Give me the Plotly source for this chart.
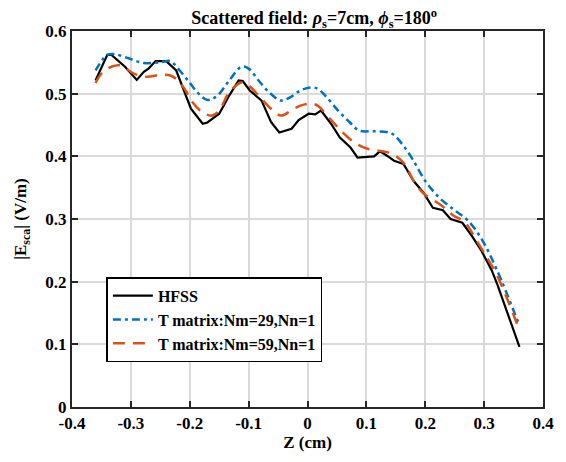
import plotly.graph_objects as go

z_hfss = [-0.36, -0.34, -0.333, -0.31, -0.29, -0.278, -0.27, -0.258, -0.24, -0.223, -0.198, -0.178, -0.17,
          -0.158, -0.15, -0.133, -0.117, -0.11, -0.098, -0.078, -0.062, -0.048, -0.027, -0.015, 0.002, 0.013,
          0.023, 0.04, 0.055, 0.073, 0.085, 0.113, 0.123, 0.135, 0.147, 0.163, 0.18, 0.197, 0.213, 0.23,
          0.243, 0.263, 0.28, 0.295, 0.313, 0.323, 0.36]
e_hfss = [0.521, 0.562, 0.562, 0.543, 0.522, 0.535, 0.54, 0.552, 0.552, 0.537, 0.476, 0.452, 0.454,
          0.463, 0.468, 0.497, 0.521, 0.52, 0.505, 0.489, 0.455, 0.438, 0.444, 0.458, 0.468, 0.467,
          0.473, 0.452, 0.43, 0.414, 0.398, 0.40, 0.408, 0.401, 0.393, 0.388, 0.361, 0.342, 0.318, 0.314,
          0.30, 0.294, 0.272, 0.25, 0.218, 0.194, 0.096]

z_t29 = [-0.36, -0.34, -0.327, -0.303, -0.278, -0.25, -0.233, -0.22, -0.203, -0.187, -0.17, -0.153, -0.133,
         -0.112, -0.1, -0.083, -0.065, -0.045, -0.028, -0.012, 0.005, 0.017, 0.03, 0.052, 0.072, 0.088,
         0.113, 0.138, 0.147, 0.172, 0.202, 0.225, 0.25, 0.272, 0.297, 0.322, 0.36]
e_t29 = [0.537, 0.562, 0.563, 0.556, 0.549, 0.55, 0.552, 0.54, 0.521, 0.502, 0.49, 0.497, 0.521,
         0.543, 0.54, 0.521, 0.502, 0.489, 0.495, 0.505, 0.51, 0.508, 0.497, 0.473, 0.454, 0.441,
         0.44, 0.438, 0.434, 0.405, 0.358, 0.333, 0.314, 0.298, 0.266, 0.218, 0.13]

z_t59 = [-0.36, -0.35, -0.333, -0.317, -0.295, -0.273, -0.25, -0.233, -0.22, -0.207, -0.195, -0.178, -0.162,
         -0.15, -0.133, -0.112, -0.1, -0.083, -0.062, -0.045, -0.028, -0.012, 0.005, 0.017, 0.038, 0.06,
         0.08, 0.102, 0.122, 0.138, 0.155, 0.167, 0.18, 0.197, 0.227, 0.247, 0.267, 0.287, 0.305, 0.322, 0.36]
e_t59 = [0.517, 0.532, 0.543, 0.545, 0.532, 0.527, 0.53, 0.529, 0.521, 0.505, 0.486, 0.47, 0.465,
         0.473, 0.502, 0.518, 0.513, 0.497, 0.476, 0.465, 0.473, 0.481, 0.484, 0.481, 0.46, 0.438,
         0.422, 0.412, 0.409, 0.406, 0.397, 0.385, 0.361, 0.341, 0.322, 0.306, 0.295, 0.266, 0.238, 0.21, 0.123]

x_ticks = [-0.4, -0.3, -0.2, -0.1, 0, 0.1, 0.2, 0.3, 0.4]
x_tick_labels = ["-0.4", "-0.3", "-0.2", "-0.1", "0", "0.1", "0.2", "0.3", "0.4"]
y_ticks = [0, 0.1, 0.2, 0.3, 0.4, 0.5, 0.6]
y_tick_labels = ["0", "0.1", "0.2", "0.3", "0.4", "0.5", "0.6"]

FONT = "Liberation Serif"

def f(size=17):
    return dict(family=FONT, size=size, color="black", weight="bold")

fig = go.Figure()
fig.add_trace(go.Scatter(x=z_hfss, y=e_hfss, mode="lines", name="HFSS",
                         line=dict(color="black", width=2.2)))
fig.add_trace(go.Scatter(x=z_t29, y=e_t29, mode="lines", name="T matrix:Nm=29,Nn=1",
                         line=dict(color="#0072BD", width=2.5, dash="8px,4px,3px,4px"), line_shape="spline"))
fig.add_trace(go.Scatter(x=z_t59, y=e_t59, mode="lines", name="T matrix:Nm=59,Nn=1",
                         line=dict(color="#D95319", width=2.5, dash="12px,8px"), line_shape="spline"))

axis_common = dict(
    showline=True, linecolor="#262626", linewidth=2, mirror="ticks",
    ticks="inside", ticklen=6, tickwidth=2, tickcolor="#262626",
    showgrid=True, gridcolor="#dadada", gridwidth=1.5, zeroline=False,
    tickfont=f(17),
)

fig.update_layout(
    width=566, height=462,
    margin=dict(l=72, r=14, t=31, b=55),
    paper_bgcolor="white", plot_bgcolor="white",
    title=dict(text="Scattered field: <i>ρ</i><sub>s</sub>=7cm, <i>ϕ</i><sub>s</sub>=180<sup>o</sup>",
               x=0.555, xanchor="center", y=0.975, yanchor="top",
               font=f(18)),
    xaxis=dict(range=[-0.4, 0.4], tickvals=x_ticks, ticktext=x_tick_labels,
               title=dict(text="Z (cm)", font=f(17), standoff=2),
               **axis_common),
    yaxis=dict(range=[0, 0.6], tickvals=y_ticks, ticktext=y_tick_labels,
               title=dict(text="|E<sub>sca</sub>| (V/m)", font=f(17), standoff=14),
               **axis_common),
    legend=dict(x=0.073, y=0.345, xanchor="left", yanchor="top",
                bgcolor="white", bordercolor="black", borderwidth=1.5,
                font=f(16),
                tracegroupgap=0, itemwidth=40),
    showlegend=True,
)

fig.write_html("out.html")
